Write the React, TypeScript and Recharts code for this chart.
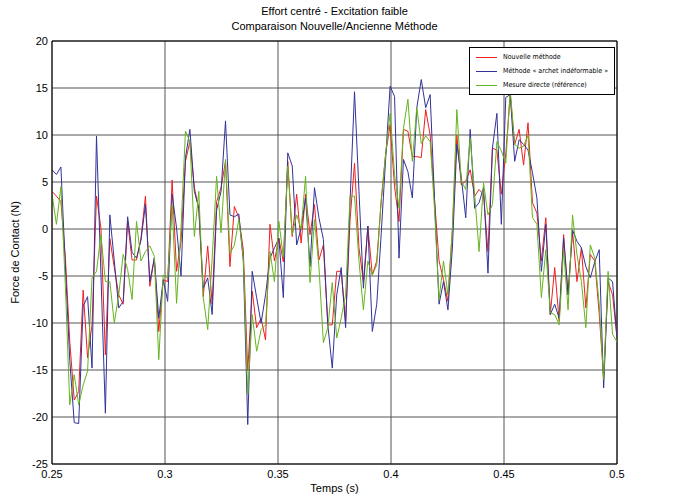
import { LineChart, Line, XAxis, YAxis, CartesianGrid, ReferenceLine } from 'recharts';

const xTicks = [0.25, 0.3, 0.35, 0.4, 0.45, 0.5];
const yTicks = [-25, -20, -15, -10, -5, 0, 5, 10, 15, 20];

const tStart = 0.25;
const tEnd = 0.5;

// Nouvelle méthode (red)
const nouvelle = [
  4.0, 3.5, 2.9, -3, -12, -18.2, -17.3, -6.5, -13.7, -10.2, 3.5, 0.1, -13.4, -1.0, -4.1, -7, -8, 0.8, -3.3, -3.3,
  -1, 3.5, -6.1, -3.1, -10.9, -5.4, -5.6, 5.2, -4.5, -1.3, 7.2, 9.3,
  4.4, 2.2, -7.2, -1.8, -8, 2.9, 4.4, 7.2, -4, 2.4, 1.2, -2.2, -15.1, -6.6, -10.5, -9.5, -11.8, 0.5, -3.4, -1,
  -3.5, 7.2, -0.8, 3.7, -1.5, 3.7, -0.6, 2.6, -3.3, -1.7, -10.2, -10.2, -4.5,
  -4.5, -9.8, 1, 7.0, -2, -5.6, 0.3, -4.9, -3.4, 3, 8, 11.1, 4.5, 0.8, 10.6, 10.4, 7.7, 7.7, 7.6, 12.7,
  10.0, 3, -3.4, -5.4, -7.7, 0, 10.0, 4.7, 5.1, 6.3, 3.5, 4.2,
  3.7, -2.4, 8.6, 8.4, 3.7, 8, 14.3, 9, 10.6, 6.8, 11.3, 2.8, 1.7, -3.4, 1.2, -9.1, -4.1, -9.8, -0.6, -7,
  -0.2, -5.6, -2, -8.4, -2.7, -3.4, -9, -15.9, -5.6, -7, -11.6,
];

// Méthode « archet indéformable » (blue)
const archet = [
  6.3, 5.8, 6.6, -4, -14, -20.6, -20.7, -8.2, -7.2, -14.8, 9.9, -4.8, -19.6, 1.5, -3.4, -8.4, -7.7, 1.3, -2.5, -3.1,
  -1.2, 2.6, -5.6, -3.1, -9.5, -5.4, -7.7, 3.7, 0.1, -5, 7.6, 10.6,
  4.0, 2.2, -6.3, -5.2, -9.1, 2, 4.0, 11.5, 1.5, 1.3, 1.6, -3.4, -20.8, -4.5, -7.3, -10, -7, -3.1, -2, -1,
  -7.3, 8.1, 6.7, -1.7, 0.1, 3.3, -4, 4.4, 1.2, -1.1, -10.2, -14.8, -7,
  -4.1, -10.5, 3, 14.6, 4, -6.3, 0.3, -10.9, -8, -0.5, 7.5, 15.2, 14.1, -3.1, 7.4, 6.1, 3.3, 12.9, 15.9, 12.9,
  14.3, 3, -8, -5.6, -8.6, -2, 9, 5.5, 1.2, 10.6, 2.2, 2.8,
  4.4, -4.7, 8.6, 12.3, 0.5, 14, 14.3, 7.2, 9.5, 9, 8.4, 6, 3.3, -4.5, 0.5, -9.1, -8, -9.5, -1, -7,
  -0.1, -1.3, -2, -4, -5.2, -3.5, -2.2, -16.9, -5.2, -5.6, -11.6,
];

// Mesure directe (référence) (green)
const mesure = [
  3.7, 0.5, 4.5, -6, -18.7, -15.5, -18.7, -16.6, -15.1, -5.2, -4.5, -0.6, -5.6, -5.6, -10, -7, -2.7, -4.3, -7.5, 0.8,
  -3.4, -2.4, -1.8, -2.9, -13.9, -4.9, -5.2, 2.6, -7.9, 0.1, 10.4, 9.3,
  -0.8, 4.0, -7.3, -10.7, -3.1, 5.6, -0.4, 7.4, -2.6, -1.7, 1.0, -3, -17.6, -9.1, -13, -10.7, -10.2, -2.4, -5.6, 0.8,
  -3, 6.7, -0.6, 1.5, 0, 5.6, -5.7, 1, -4, -12.1, -10.5, -5.7, -11.6,
  -9.5, -7, 3.5, 3.5, -3.4, -8.6, -3.4, -4.9, -3.8, 3, 8, 12.3, 5.8, 2.2, 10.7, 13.8, 7.2, 12.9, 9.1, 9.9,
  9.3, 2, -7.5, -3.4, -7, 0, 12.7, 5.1, 4.2, 9.7, 3.7, -2.4,
  4.9, 1.5, 2.6, 9.3, 8.3, 7, 14.8, 9, 8.6, 8.8, 10, 1.2, 0.5, -7.3, -2.2, -8.9, -9.1, -10.2, -2.2, -8.6,
  1.5, -2.7, -5.6, -10.5, -1.7, -3.1, -8, -16, -4.5, -11.2, -12,
];

const series = [
  { key: 'nouvelle', name: 'Nouvelle méthode', color: '#f01e1e' },
  { key: 'archet', name: 'Méthode « archet indéformable »', color: '#32329b' },
  { key: 'mesure', name: 'Mesure directe (référence)', color: '#66b41e' },
];

const data = nouvelle.map((v, i) => ({
  t: tStart + (i * (tEnd - tStart)) / (nouvelle.length - 1),
  nouvelle: v,
  archet: archet[i],
  mesure: mesure[i],
}));

const font = '"Liberation Sans", Arial, sans-serif';

function XLabel({ viewBox }: any) {
  const cx = viewBox.x + viewBox.width / 2;
  return (
    <text x={cx} y={viewBox.y + 28} textAnchor="middle" fontSize={11} fontFamily={font} fill="#000">
      Temps (s)
    </text>
  );
}

function YLabel({ viewBox }: any) {
  const cx = 15;
  const cy = viewBox.y + viewBox.height / 2;
  return (
    <text
      x={cx}
      y={cy}
      transform={`rotate(-90 ${cx} ${cy})`}
      textAnchor="middle"
      dominantBaseline="central"
      fontSize={11}
      fontFamily={font}
      fill="#000"
    >
      Force de Contact (N)
    </text>
  );
}

function LegendBox() {
  return (
    <div
      style={{
        position: 'absolute',
        left: 469,
        top: 47,
        width: 138,
        height: 44,
        background: '#fff',
        border: '1px solid #000',
        padding: '2px 0 0 6px',
        boxSizing: 'content-box',
        fontFamily: '"DejaVu Sans Condensed", "DejaVu Sans", Verdana, sans-serif',
        fontStretch: 'condensed',
        fontSize: 7,
        lineHeight: '14px',
        color: '#000',
        whiteSpace: 'nowrap',
      }}
    >
      {series.map((s) => (
        <div key={s.key} style={{ display: 'flex', alignItems: 'center' }}>
          <svg width={21} height={3} style={{ marginRight: 6 }}>
            <line x1={0} y1={1.5} x2={21} y2={1.5} stroke={s.color} strokeWidth={1} />
          </svg>
          {s.name}
        </div>
      ))}
    </div>
  );
}

export default function App() {
  return (
    <div style={{ position: 'absolute', left: 0, top: 0, width: 674, height: 499, background: '#fff' }}>
      <div
        style={{
          position: 'absolute',
          left: 0,
          width: 669,
          top: 4,
          textAlign: 'center',
          fontFamily: font,
          fontSize: 11,
          lineHeight: '15px',
          color: '#000',
        }}
      >
        <div>Effort centré - Excitation faible</div>
        <div>Comparaison Nouvelle/Ancienne Méthode</div>
      </div>
      <LineChart width={674} height={499} data={data} margin={{ top: 41, right: 57, bottom: 0, left: 0 }}>
        <CartesianGrid stroke="#555" strokeWidth={1} />
        <XAxis
          dataKey="t"
          type="number"
          domain={[tStart, tEnd]}
          ticks={xTicks}
          allowDataOverflow
          height={35}
          stroke="#000"
          tickSize={3}
          tickMargin={3}
          tickLine={false}
          tick={{ fontSize: 11, fill: '#000', fontFamily: font }}
          tickFormatter={(v: number) => String(+v.toFixed(2))}
          label={<XLabel />}
        />
        <YAxis
          type="number"
          domain={[-25, 20]}
          ticks={yTicks}
          allowDataOverflow
          width={52}
          stroke="#000"
          tickSize={2}
          tickMargin={2}
          tickLine={false}
          tick={{ fontSize: 11, fill: '#000', fontFamily: font }}
          label={<YLabel />}
        />
        <ReferenceLine y={20} stroke="#000" />
        <ReferenceLine x={tEnd} stroke="#000" />
        {series.map((s) => (
          <Line
            key={s.key}
            type="linear"
            dataKey={s.key}
            name={s.name}
            stroke={s.color}
            strokeWidth={1}
            dot={false}
            isAnimationActive={false}
          />
        ))}
      </LineChart>
      <LegendBox />
    </div>
  );
}
